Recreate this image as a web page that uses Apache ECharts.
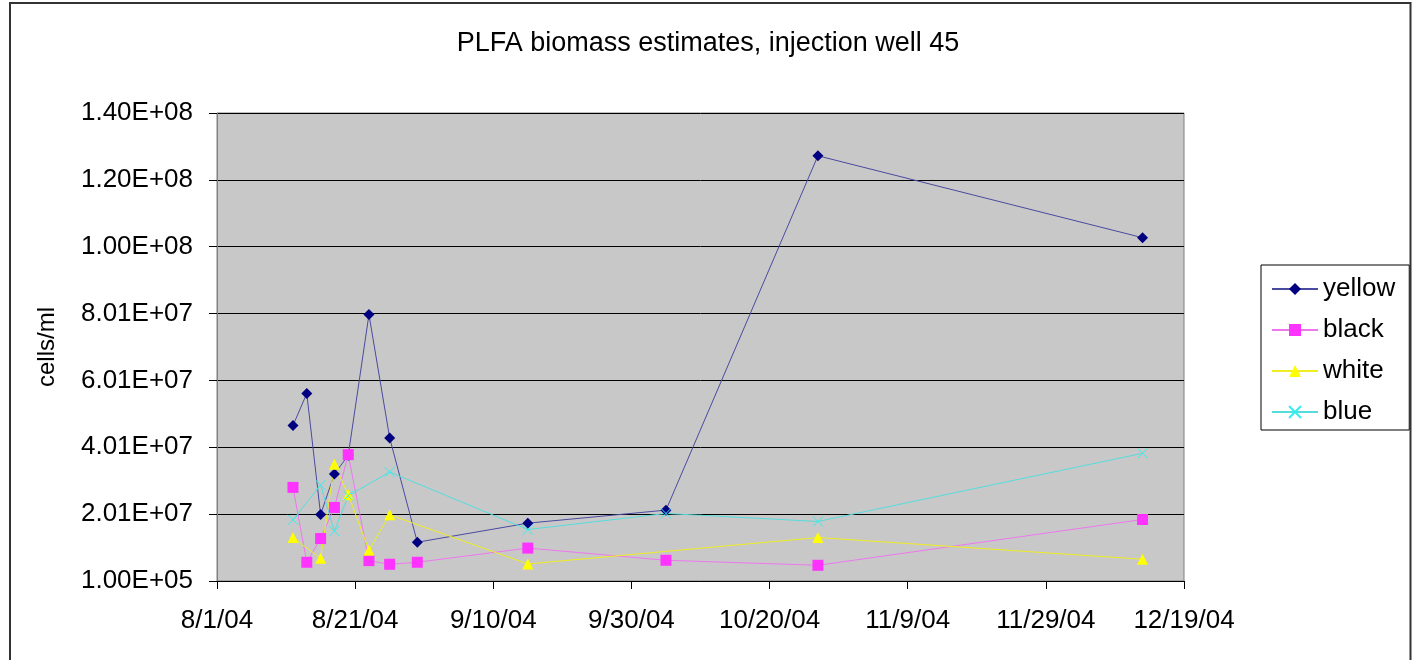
<!DOCTYPE html>
<html>
<head>
<meta charset="utf-8">
<script src="https://cdn.jsdelivr.net/npm/echarts@6/dist/echarts.min.js"></script>
<style>
  html, body { margin: 0; padding: 0; background: #fff; }
  #chart { width: 1416px; height: 660px; }
</style>
</head>
<body>
<div id="chart"></div>
<script>
// PLFA biomass estimates (cells/ml) for injection well 45
const titleText = 'PLFA biomass estimates, injection well 45';
const yAxisName = 'cells/ml';
const seriesNames = ['yellow', 'black', 'white', 'blue'];

const yellowDates = ['2004-08-12', '2004-08-14', '2004-08-16', '2004-08-18', '2004-08-20', '2004-08-23',
                     '2004-08-26', '2004-08-30', '2004-09-15', '2004-10-05', '2004-10-27', '2004-12-13'];
const yellowValues = [4.66e7, 5.62e7, 2.00e7, 3.21e7, 3.77e7, 7.98e7, 4.29e7, 1.17e7, 1.74e7, 2.13e7, 1.273e8, 1.028e8];

const blackDates = ['2004-08-12', '2004-08-14', '2004-08-16', '2004-08-18', '2004-08-20', '2004-08-23',
                    '2004-08-26', '2004-08-30', '2004-09-15', '2004-10-05', '2004-10-27', '2004-12-13'];
const blackValues = [2.81e7, 5.7e6, 1.28e7, 2.21e7, 3.79e7, 6.2e6, 5.1e6, 5.7e6, 9.95e6, 6.3e6, 4.8e6, 1.85e7];

const whiteDates = ['2004-08-12', '2004-08-16', '2004-08-18', '2004-08-20', '2004-08-23', '2004-08-26',
                    '2004-09-15', '2004-10-27', '2004-12-13'];
const whiteValues = [1.31e7, 6.9e6, 3.50e7, 2.59e7, 9.3e6, 1.99e7, 5.2e6, 1.31e7, 6.6e6];

const blueDates = ['2004-08-12', '2004-08-16', '2004-08-18', '2004-08-20', '2004-08-26', '2004-09-15',
                   '2004-10-05', '2004-10-27', '2004-12-13'];
const blueValues = [1.84e7, 2.88e7, 1.50e7, 2.56e7, 3.27e7, 1.55e7, 2.03e7, 1.79e7, 3.83e7];

// axis range: dates every 20 days, counts every 2.00E+07 starting at 1.00E+05
const xStart = '2004-08-01';
const xEnd = '2004-12-19';
const xStepDays = 20;
const yMin = 1e5;
const yStep = 2e7;
const yMax = 1.401e8;

const DAY = 86400000;
function toTime(s) {
  const [y, m, d] = s.split('-').map(Number);
  return Date.UTC(y, m - 1, d);
}
function pairs(dates, values) {
  return dates.map((d, i) => [toTime(d), values[i]]);
}
function fmtDate(v) {
  const d = new Date(v);
  return (d.getUTCMonth() + 1) + '/' + d.getUTCDate() + '/' + String(d.getUTCFullYear()).slice(2);
}
function fmtSci(v) {
  const [m, e] = Number(v).toExponential(2).split('e');
  const sign = e[0] === '-' ? '-' : '+';
  const digits = e.replace(/^[+-]/, '').padStart(2, '0');
  return m + 'E' + sign + digits;
}

const FONT = '"Liberation Sans", Arial, sans-serif';

const chart = echarts.init(document.getElementById('chart'), null, { renderer: 'canvas' });

function lineSeries(name, dates, values, symbol, size, markColor, lineColor, extraItem) {
  return {
    name: name,
    type: 'line',
    data: pairs(dates, values),
    symbol: symbol,
    symbolSize: size,
    showAllSymbol: true,
    animation: false,
    lineStyle: { color: lineColor, width: 1 },
    itemStyle: Object.assign({ color: markColor }, extraItem || {}),
    emphasis: { disabled: true }
  };
}

chart.setOption({
  backgroundColor: '#ffffff',
  animation: false,
  textStyle: { fontFamily: FONT },
  title: {
    text: titleText,
    left: 'center',
    top: 25,
    textStyle: { fontFamily: FONT, fontSize: 27, fontWeight: 'normal', color: '#000' }
  },
  grid: {
    left: 217, right: 232, top: 113, bottom: 79,
    show: true,
    backgroundColor: '#c8c8c8',
    borderColor: '#808080',
    borderWidth: 1
  },
  legend: {
    orient: 'vertical',
    left: 1261,
    top: 265,
    padding: [11, 14, 5, 10],
    itemGap: 15,
    itemWidth: 46,
    itemHeight: 15,
    borderColor: '#000',
    borderWidth: 1,
    backgroundColor: '#fff',
    textStyle: { fontFamily: FONT, fontSize: 26, color: '#000', lineHeight: 26 },
    data: seriesNames
  },
  xAxis: {
    type: 'value',
    min: toTime(xStart),
    max: toTime(xEnd),
    interval: xStepDays * DAY,
    axisLine: { show: true, onZero: false, lineStyle: { color: '#000', width: 1 } },
    axisTick: { show: true, length: 8, lineStyle: { color: '#000' } },
    splitLine: { show: false },
    axisLabel: { formatter: fmtDate, fontFamily: FONT, fontSize: 26, color: '#000', margin: 27 }
  },
  yAxis: {
    type: 'value',
    min: yMin,
    max: yMax,
    interval: yStep,
    name: yAxisName,
    nameLocation: 'middle',
    nameRotate: 90,
    nameGap: 158,
    nameTextStyle: { fontFamily: FONT, fontSize: 24, color: '#000' },
    axisLine: { show: true, lineStyle: { color: '#808080', width: 1 } },
    axisTick: { show: true, length: 8, lineStyle: { color: '#000' } },
    splitLine: { show: true, lineStyle: { color: '#000', width: 1 } },
    axisLabel: { formatter: fmtSci, fontFamily: FONT, fontSize: 26, color: '#000', margin: 24 }
  },
  graphic: [{
    type: 'rect',
    shape: { x: 10, y: 3, width: 1400.5, height: 700 },
    style: { fill: 'none', stroke: '#333', lineWidth: 2 },
    silent: true,
    z: 100
  }],
  series: [
    lineSeries('yellow', yellowDates, yellowValues, 'diamond', 11, '#000080', '#4a4aa0'),
    lineSeries('black', blackDates, blackValues, 'rect', 11, '#ff33ff', '#ee77ee'),
    lineSeries('white', whiteDates, whiteValues, 'triangle', 11, '#ffff00', '#eeee22'),
    lineSeries('blue', blueDates, blueValues, 'path://M0,0L10,10M10,0L0,10', 10, 'rgba(0,0,0,0)', '#55dddd',
      { borderColor: '#33eeee', borderWidth: 1 })
  ]
});
</script>
</body>
</html>
